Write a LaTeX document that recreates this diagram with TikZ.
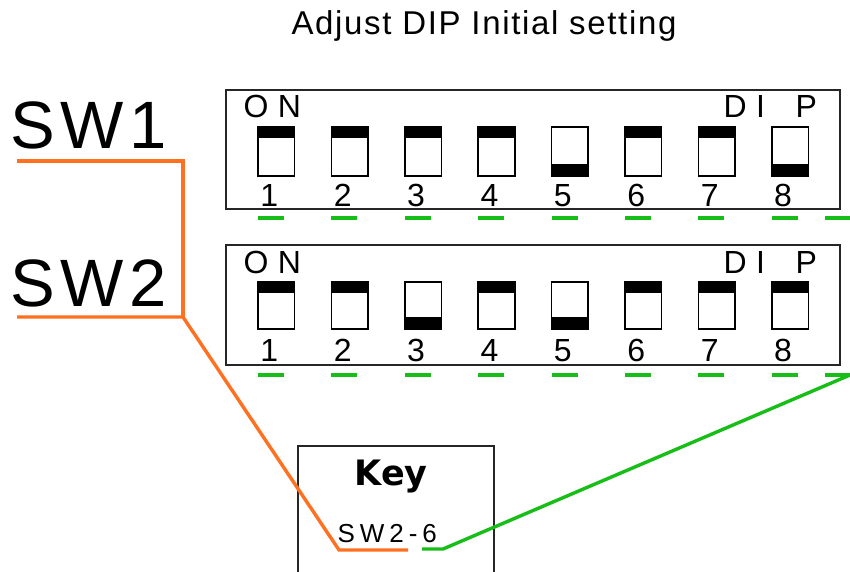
\documentclass[tikz,border=0pt]{standalone}
\usepackage{fontspec}
\setmainfont{Liberation Sans}
\newfontfamily\keyfont{DejaVu Sans}
\definecolor{wireorange}{RGB}{255,112,32}
\definecolor{wiregreen}{RGB}{24,190,24}
\begin{document}
\begin{tikzpicture}[x=1pt,y=-1pt,
  txt/.style={inner sep=0pt,outer sep=0pt},
  frame/.style={draw=black!85,line width=1.6pt},
  sw/.style={draw=black,line width=1.6pt},
  onmark/.style={fill=black},
  orangewire/.style={draw=wireorange,line width=3.4pt},
  greenwire/.style={draw=wiregreen,line width=3.4pt},
  gdash/.style={draw=wiregreen,line width=3.4pt},
  diplabel/.style={txt,font=\fontsize{32}{32}\selectfont\addfontfeature{LetterSpace=30}},
  numlabel/.style={txt,font=\fontsize{32}{32}\selectfont}
]
\useasboundingbox (0,0) rectangle (850,571);
\clip (0,0) rectangle (850,571);
\fill[white] (0,0) rectangle (850,571);

% title
\node[txt,anchor=base,font=\fontsize{33}{33}\selectfont\addfontfeature{LetterSpace=5}] (title) at (484,34) {Adjust DIP Initial setting};

% SW labels
\node[txt,anchor=base west,font=\fontsize{67}{67}\selectfont\addfontfeature{LetterSpace=9}] (sw1) at (10,148) {SW1};
\node[txt,anchor=base west,font=\fontsize{67}{67}\selectfont\addfontfeature{LetterSpace=9}] (sw2) at (10,306) {SW2};

% DIP boxes
\node[frame,txt,minimum width=614pt,minimum height=119pt,anchor=north west] (dipA) at (226,90) {};
\node[frame,txt,minimum width=614pt,minimum height=120pt,anchor=north west] (dipB) at (226,245) {};

\node[diplabel,anchor=base west] (onA) at (243.5,117) {ON};
\node[diplabel,anchor=base west] (dipTA) at (723.5,117) {DI\hspace{12pt} P};
\node[diplabel,anchor=base west] (onB) at (243.5,273) {ON};
\node[diplabel,anchor=base west] (dipTB) at (723.5,273) {DI\hspace{12pt} P};

% switches: top panel (off: 5, 8), bottom panel (off: 3, 5)
\foreach \i in {1,...,8}{
  \pgfmathsetmacro{\xl}{258+73.4*(\i-1)}
  \pgfmathsetmacro{\xc}{\xl+18.25}
  % top panel
  \ifnum\i=5 \fill[onmark] (\xl,164) rectangle ++(36.5,12);
  \else\ifnum\i=8 \fill[onmark] (\xl,164) rectangle ++(36.5,12);
  \else \fill[onmark] (\xl,127) rectangle ++(36.5,11);
  \fi\fi
  \node[sw,txt,minimum width=36.5pt,minimum height=49pt,anchor=north west] (a\i) at (\xl,127) {};
  \node[numlabel,anchor=base] (na\i) at (\xc-7,206) {\i};
  \draw[gdash] (\xl,218) -- ++(26,0);
  % bottom panel
  \ifnum\i=3 \fill[onmark] (\xl,317) rectangle ++(36.5,12);
  \else\ifnum\i=5 \fill[onmark] (\xl,317) rectangle ++(36.5,12);
  \else \fill[onmark] (\xl,282) rectangle ++(36.5,11);
  \fi\fi
  \node[sw,txt,minimum width=36.5pt,minimum height=47pt,anchor=north west] (b\i) at (\xl,282) {};
  \node[numlabel,anchor=base] (nb\i) at (\xc-7,361) {\i};
  \draw[gdash] (\xl,375) -- ++(26,0);
}
\draw[gdash] (825,218) -- (850,218);
\coordinate (gend) at (850,375);
\draw[gdash] (825,375) -- (gend);

% key box
\node[frame,txt,minimum width=196pt,minimum height=140pt,anchor=north west] (keybox) at (298,446) {};
\node[txt,anchor=base,font=\keyfont\bfseries\fontsize{35}{35}\selectfont] (key) at (391,485) {Key};
\node[txt,anchor=base west,font=\fontsize{26}{26}\selectfont\addfontfeature{LetterSpace=19}] (swkey) at (337.7,542) {SW2-6};

% wires
\coordinate (o1) at (17,161);
\coordinate (o2) at (183,161);
\coordinate (o3) at (183,317);
\coordinate (o4) at (17,317);
\coordinate (o5) at (339,550);
\coordinate (o6) at (408,550);
\draw[orangewire,line join=miter] (o1) -- (o2) -- (o3);
\draw[orangewire] (o4) -- (o3) -- (o5) -- (o6);
\coordinate (g1) at (443,549);
\coordinate (g2) at (422,549);
\draw[greenwire] (gend) -- (g1) -- (g2);
\end{tikzpicture}
\end{document}
